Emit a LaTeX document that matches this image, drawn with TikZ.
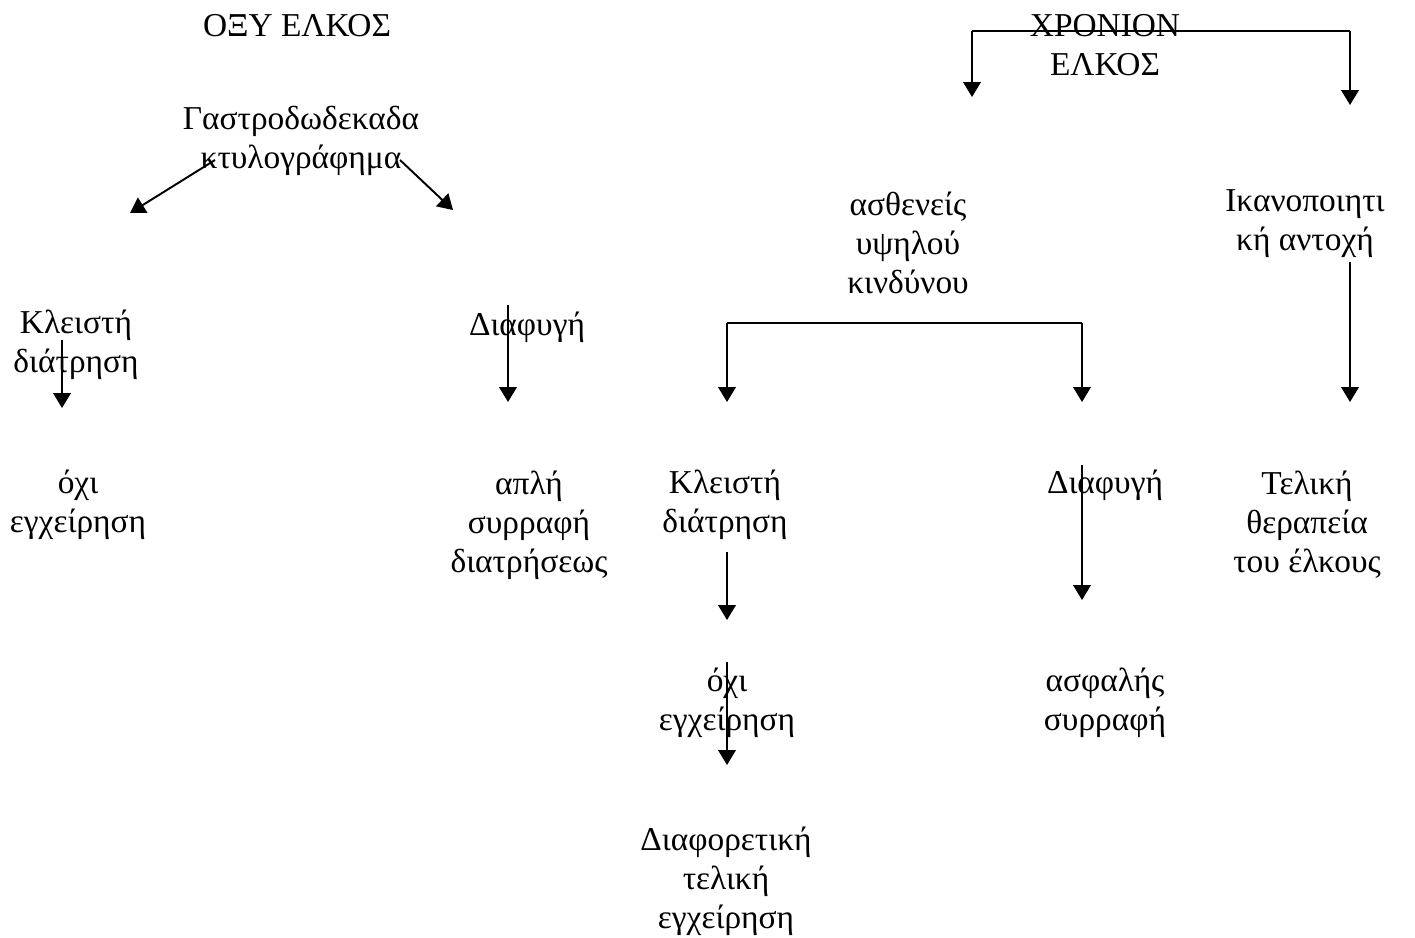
\documentclass[tikz,border=0pt]{standalone}
\usepackage{fontspec}
\setmainfont{Liberation Serif}
\usetikzlibrary{arrows.meta}
\tikzstyle{txt}=[align=center,inner sep=0pt,font=\fontsize{19}{22.2}\selectfont]
\tikzstyle{arr}=[-{Triangle[length=8.5pt,width=10pt]},line width=1.1pt]
\begin{document}
\begin{tikzpicture}[x=0.02cm,y=-0.02cm]
\useasboundingbox (0,0) rectangle (1415,937);
% acute ulcer side
\node[txt] (oxy) at (297,26) {ΟΞΥ ΕΛΚΟΣ};
\node[txt] (gastro) at (301,141) {Γαστροδωδεκαδα\\κτυλογράφημα};
\node[txt] (kleistL) at (76,345) {Κλειστή\\διάτρηση};
\node[txt] (diafL) at (527,327) {Διαφυγή};
\node[txt] (oxiL) at (78,505) {όχι\\εγχείρηση};
\node[txt] (apli) at (529,525) {απλή\\συρραφή\\διατρήσεως};
% chronic ulcer side
\node[txt] (xron) at (1105,45) {ΧΡΟΝΙΟΝ\\ΕΛΚΟΣ};
\node[txt] (asth) at (908,243) {ασθενείς\\υψηλού\\κινδύνου};
\node[txt] (ikan) at (1305,224) {Ικανοποιητι\\κή αντοχή};
\node[txt] (kleistR) at (725,505) {Κλειστή\\διάτρηση};
\node[txt] (diafR) at (1105,485) {Διαφυγή};
\node[txt] (teliki) at (1307,525) {Τελική\\θεραπεία\\του έλκους};
\node[txt] (oxiM) at (727,703) {όχι\\εγχείρηση};
\node[txt] (asfal) at (1105,703) {ασφαλής\\συρραφή};
\node[txt] (diafor) at (726,881) {Διαφορετική\\τελική\\εγχείρηση};
% arrow ends
\coordinate (gL) at (215,160); \coordinate (gLe) at (130,213);
\coordinate (gR) at (400,160); \coordinate (gRe) at (453,210);
\coordinate (kL) at (62,340); \coordinate (kLe) at (62,408);
\coordinate (dL) at (508,305); \coordinate (dLe) at (508,402);
\coordinate (xL) at (972,31); \coordinate (xLe) at (972,97);
\coordinate (xR) at (1350,31); \coordinate (xRe) at (1350,105);
\coordinate (aL) at (727,323); \coordinate (aLe) at (727,402);
\coordinate (aR) at (1082,323); \coordinate (aRe) at (1082,402);
\coordinate (iS) at (1350,262); \coordinate (iSe) at (1350,402);
\coordinate (kR) at (727,552); \coordinate (kRe) at (727,620);
\coordinate (dR) at (1082,465); \coordinate (dRe) at (1082,600);
\coordinate (oM) at (727,662); \coordinate (oMe) at (727,765);
\draw[arr] (gL) -- (gLe);
\draw[arr] (gR) -- (gRe);
\draw[arr] (kL) -- (kLe);
\draw[arr] (dL) -- (dLe);
\draw[line width=1.1pt] (xL) -- (xR);
\draw[arr] (xL) -- (xLe);
\draw[arr] (xR) -- (xRe);
\draw[line width=1.1pt] (aL) -- (aR);
\draw[arr] (aL) -- (aLe);
\draw[arr] (aR) -- (aRe);
\draw[arr] (iS) -- (iSe);
\draw[arr] (kR) -- (kRe);
\draw[arr] (dR) -- (dRe);
\draw[arr] (oM) -- (oMe);
\end{tikzpicture}
\end{document}
